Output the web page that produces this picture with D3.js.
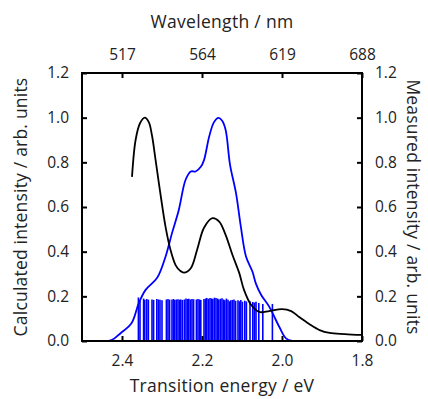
<!DOCTYPE html>
<html>
<head>
<meta charset="utf-8">
<script src="https://cdn.jsdelivr.net/npm/d3@7"></script>
<style>
  body { margin: 0; background: #fff; }
  text { font-family: "Open Sans", Lato, sans-serif; fill: #222; }
</style>
</head>
<body>
<div id="chart"></div>
<script>
// Calculated spectrum (black, left axis): [energy eV, intensity]
const calcEnergy = [2.375, 2.366, 2.355, 2.343, 2.333, 2.325, 2.316, 2.304, 2.291, 2.279, 2.266, 2.255, 2.245, 2.228, 2.212, 2.195, 2.174, 2.157, 2.141, 2.124, 2.107, 2.095, 2.077, 2.057, 2.032, 2.000, 1.977, 1.957, 1.932, 1.906, 1.881, 1.843, 1.800];
const calcValue  = [0.735, 0.90, 0.975, 1.000, 0.980, 0.920, 0.810, 0.660, 0.510, 0.410, 0.340, 0.315, 0.306, 0.326, 0.410, 0.507, 0.550, 0.535, 0.475, 0.386, 0.305, 0.229, 0.161, 0.130, 0.134, 0.143, 0.134, 0.107, 0.076, 0.049, 0.036, 0.031, 0.027];

// Measured spectrum (blue, right axis)
const measEnergy = [2.500, 2.458, 2.426, 2.403, 2.376, 2.358, 2.341, 2.316, 2.308, 2.291, 2.275, 2.258, 2.241, 2.228, 2.216, 2.203, 2.195, 2.182, 2.170, 2.159, 2.150, 2.141, 2.130, 2.115, 2.103, 2.090, 2.074, 2.065, 2.052, 2.032, 2.007, 1.990, 1.974, 1.800];
const measValue  = [0.000, 0.000, 0.004, 0.036, 0.081, 0.170, 0.229, 0.274, 0.296, 0.378, 0.483, 0.587, 0.722, 0.759, 0.759, 0.780, 0.810, 0.916, 0.980, 0.999, 0.987, 0.946, 0.790, 0.662, 0.513, 0.378, 0.311, 0.256, 0.206, 0.154, 0.064, 0.012, 0.000, 0.000];

// Transition sticks (blue)
const stickEnergy = [2.359, 2.355, 2.346, 2.343, 2.338, 2.334, 2.325, 2.321, 2.313, 2.309, 2.305, 2.300, 2.289, 2.285, 2.281, 2.275, 2.271, 2.268, 2.264, 2.260, 2.256, 2.253, 2.249, 2.244, 2.240, 2.236, 2.233, 2.229, 2.225, 2.221, 2.214, 2.210, 2.206, 2.203, 2.195, 2.191, 2.188, 2.184, 2.180, 2.176, 2.173, 2.169, 2.165, 2.161, 2.158, 2.154, 2.150, 2.146, 2.143, 2.139, 2.135, 2.131, 2.128, 2.124, 2.120, 2.116, 2.110, 2.106, 2.103, 2.099, 2.093, 2.089, 2.080, 2.073, 2.069, 2.065, 2.058, 2.048, 2.024];
const stickValue  = [0.195, 0.180, 0.190, 0.185, 0.188, 0.185, 0.186, 0.184, 0.188, 0.186, 0.185, 0.182, 0.186, 0.188, 0.185, 0.186, 0.188, 0.184, 0.186, 0.187, 0.185, 0.186, 0.184, 0.186, 0.190, 0.188, 0.189, 0.186, 0.188, 0.187, 0.186, 0.188, 0.186, 0.184, 0.188, 0.190, 0.192, 0.189, 0.193, 0.191, 0.188, 0.194, 0.192, 0.190, 0.186, 0.189, 0.191, 0.186, 0.183, 0.190, 0.185, 0.178, 0.182, 0.184, 0.186, 0.180, 0.182, 0.178, 0.184, 0.176, 0.180, 0.177, 0.178, 0.175, 0.172, 0.176, 0.170, 0.166, 0.166];

const xTicks = [2.4, 2.2, 2.0, 1.8];
const topTickLabels = ["517", "564", "619", "688"];
const yTicks = [0.0, 0.2, 0.4, 0.6, 0.8, 1.0, 1.2];

const width = 428, height = 399;
const margin = {top: 73, right: 66, bottom: 58, left: 82};
const innerW = width - margin.left - margin.right;
const innerH = height - margin.top - margin.bottom;

const svg = d3.select("#chart").append("svg")
    .attr("width", width)
    .attr("height", height);

const g = svg.append("g").attr("transform", `translate(${margin.left},${margin.top})`);

const x = d3.scaleLinear().domain([2.5, 1.8]).range([0, innerW]);
const y = d3.scaleLinear().domain([0, 1.2]).range([innerH, 0]);

g.append("defs").append("clipPath").attr("id", "clip")
    .append("rect").attr("width", innerW).attr("height", innerH);

const plot = g.append("g").attr("clip-path", "url(#clip)");

// sticks
plot.selectAll("line.stick")
    .data(stickEnergy.map((e, i) => [e, stickValue[i]]))
    .join("line")
    .attr("class", "stick")
    .attr("x1", d => x(d[0])).attr("x2", d => x(d[0]))
    .attr("y1", y(0)).attr("y2", d => y(d[1]))
    .attr("stroke", "#0000ff")
    .attr("stroke-width", 1.6);

const line = d3.line()
    .x(d => x(d[0]))
    .y(d => y(d[1]))
    .curve(d3.curveCatmullRom.alpha(0.5));

plot.append("path")
    .datum(measEnergy.map((e, i) => [e, measValue[i]]))
    .attr("d", line)
    .attr("fill", "none")
    .attr("stroke", "#0000ff")
    .attr("stroke-width", 1.8);

plot.append("path")
    .datum(calcEnergy.map((e, i) => [e, calcValue[i]]))
    .attr("d", line)
    .attr("fill", "none")
    .attr("stroke", "#000")
    .attr("stroke-width", 1.8);

// axes with inward ticks
const tickLen = 5;
const bottomAxis = d3.axisBottom(x).tickValues(xTicks).tickFormat(d3.format(".1f")).tickSizeInner(-tickLen).tickSizeOuter(0).tickPadding(14);
const topAxis = d3.axisTop(x).tickValues(xTicks).tickFormat((d, i) => topTickLabels[i]).tickSizeInner(-tickLen).tickSizeOuter(0).tickPadding(13);
const leftAxis = d3.axisLeft(y).tickValues(yTicks).tickFormat(d3.format(".1f")).tickSizeInner(-tickLen).tickSizeOuter(0).tickPadding(13);
const rightAxis = d3.axisRight(y).tickValues(yTicks).tickFormat(d3.format(".1f")).tickSizeInner(-tickLen).tickSizeOuter(0).tickPadding(13);

function styleAxis(sel) {
  sel.select(".domain").remove();
  sel.selectAll(".tick line").attr("stroke", "#000").attr("stroke-width", 2);
  sel.selectAll(".tick text").attr("font-size", 15.5).attr("fill", "#222")
     .style("font-family", "'Open Sans', Lato, sans-serif");
}

g.append("g").attr("transform", `translate(0,${innerH})`).call(bottomAxis).call(styleAxis);
g.append("g").call(topAxis).call(styleAxis);
g.append("g").call(leftAxis).call(styleAxis);
g.append("g").attr("transform", `translate(${innerW},0)`).call(rightAxis).call(styleAxis);

// frame
g.append("rect")
    .attr("width", innerW).attr("height", innerH)
    .attr("fill", "none").attr("stroke", "#000").attr("stroke-width", 2);

// titles
const titleSize = 17.5;
svg.append("text")
    .attr("x", margin.left + innerW / 2).attr("y", 28)
    .attr("text-anchor", "middle").attr("font-size", titleSize)
    .attr("letter-spacing", 0.3)
    .text("Wavelength / nm");

svg.append("text")
    .attr("x", margin.left + innerW / 2).attr("y", 392)
    .attr("text-anchor", "middle").attr("font-size", titleSize)
    .attr("letter-spacing", 0.3)
    .text("Transition energy / eV");

svg.append("text")
    .attr("transform", `translate(27,${margin.top + innerH / 2}) rotate(-90)`)
    .attr("text-anchor", "middle").attr("font-size", titleSize)
    .attr("letter-spacing", 0.2)
    .text("Calculated intensity / arb. units");

svg.append("text")
    .attr("transform", `translate(407,${margin.top + innerH / 2}) rotate(90)`)
    .attr("text-anchor", "middle").attr("font-size", titleSize)
    .attr("letter-spacing", 0.2)
    .text("Measured intensity / arb. units");
</script>
</body>
</html>
